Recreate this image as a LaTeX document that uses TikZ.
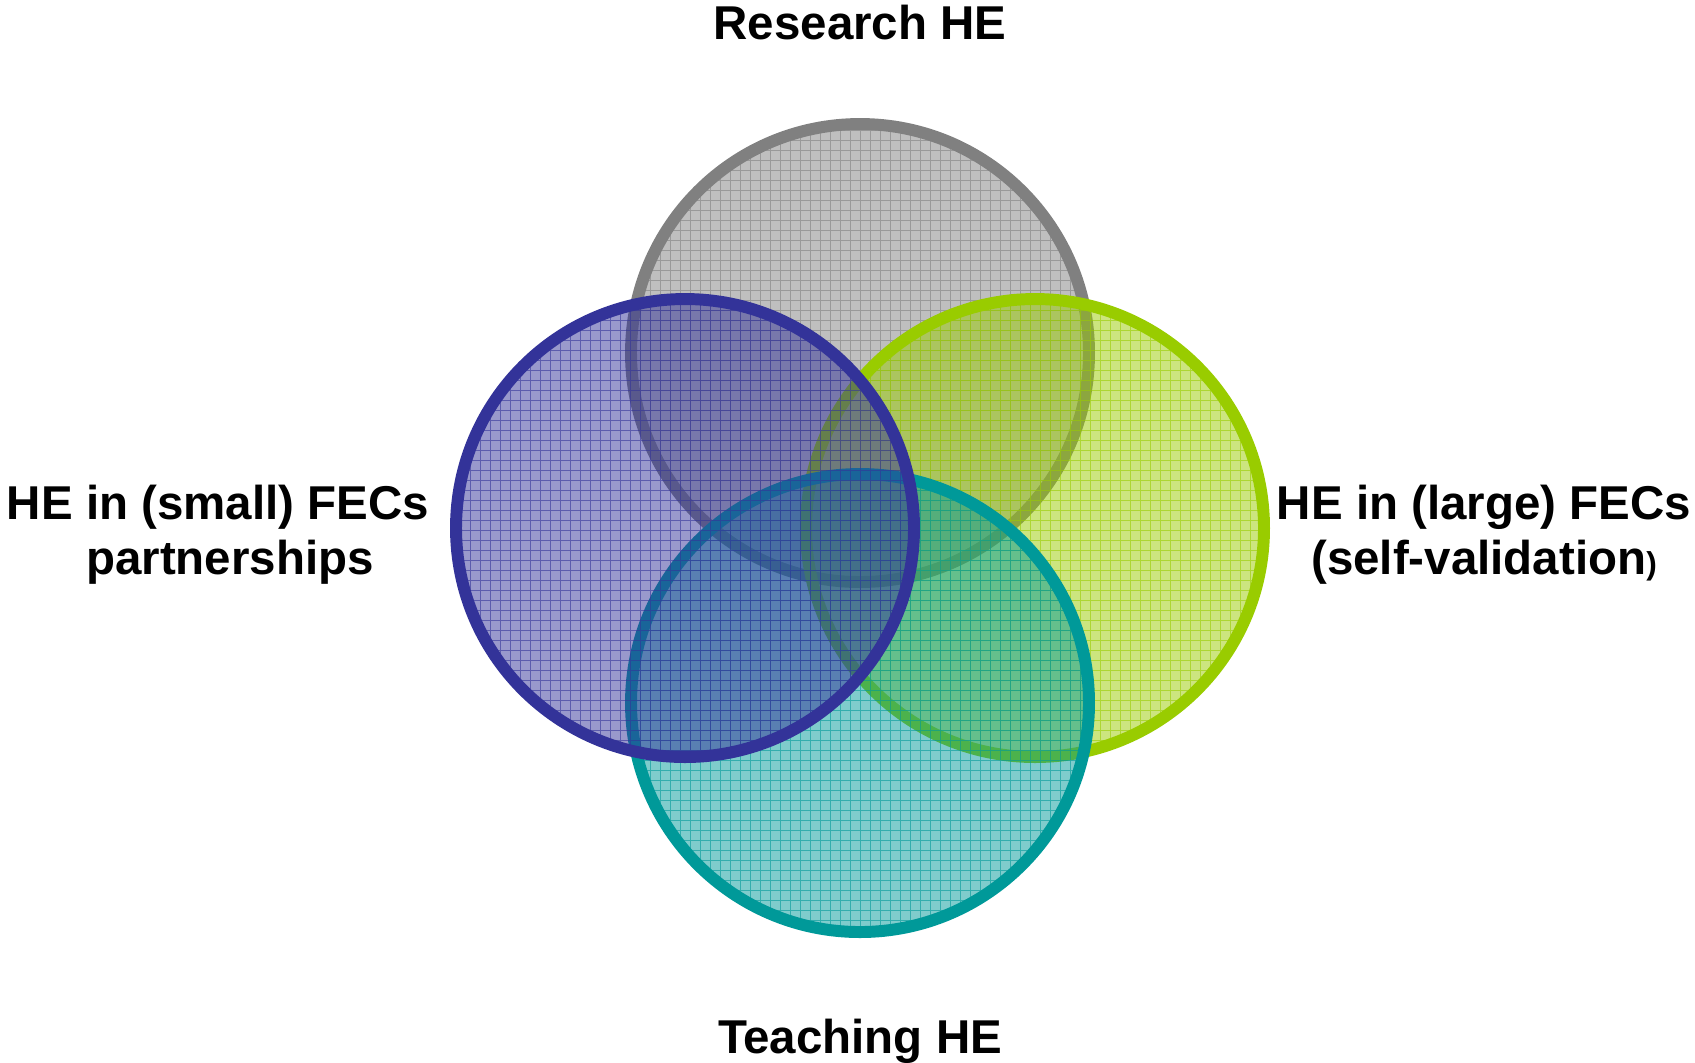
\documentclass[tikz,border=0pt]{standalone}
\usepackage{fontspec}
\setmainfont{Liberation Sans}
\usepackage{tikz}
\usepackage{xcolor}
\definecolor{resgray}{HTML}{808080}
\definecolor{smallblue}{HTML}{333399}
\definecolor{largegreen}{HTML}{99CC00}
\definecolor{teachteal}{HTML}{009999}

\begin{document}
\begin{tikzpicture}[x=0.01cm,y=-0.01cm,
  lab/.style={font=\bfseries\fontsize{13.5}{15.6}\selectfont,inner sep=0pt,align=center}]
  \useasboundingbox (0,0) rectangle (1695,1062);
  \coordinate(res) at (860,353);
  \coordinate(small) at (685,528);
  \coordinate(large) at (1035,528);
  \coordinate(teach) at (860,703);
  \foreach \c/\col in {res/resgray,large/largegreen,teach/teachteal,small/smallblue}{
    \begin{scope}
      \clip (\c) circle[radius=229];
      \fill[\col,opacity=0.5] (\c) circle[radius=229];
      \draw[\col,opacity=0.6,line width=0.3pt,step=1mm] (0,0) grid (1695,1062);
    \end{scope}
    \draw[\col,line width=3.4pt] (\c) circle[radius=229];
  }
  \node[lab,anchor=base](resHE) at (860,39) {Research HE};
  \node[lab,anchor=base](teachHE) at (860,1053) {Teaching HE};
  \node[lab](smallHE) at (218,535) {HE in (small) FECs\\\hspace*{0.24cm}partnerships};
  \node[lab](largeHE) at (1484,535) {HE in (large) FECs\\(self-validation{\fontsize{9}{10}\selectfont)}};
\end{tikzpicture}
\end{document}
